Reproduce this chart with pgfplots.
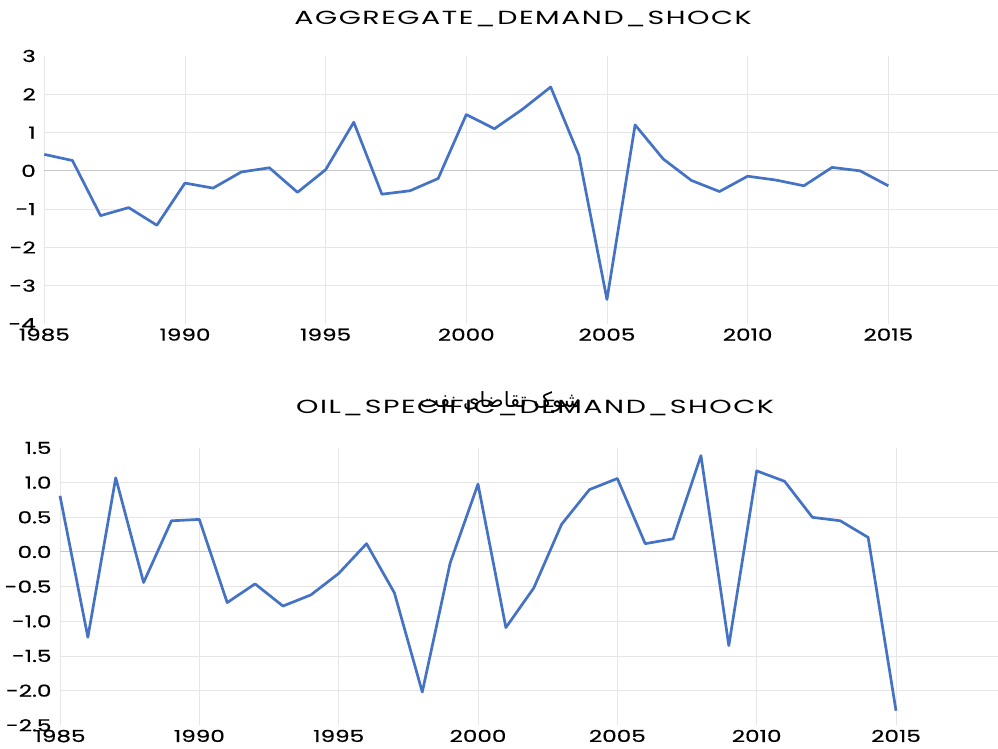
\documentclass[border=0pt]{standalone}
\usepackage{fontspec}
\usepackage{pgfplots}
\pgfplotsset{compat=1.18}
\TeXXeTstate=1
\newfontfamily\chartfont{Poppins}[FakeStretch=1.4, FakeBold=0.6]
\newfontfamily\titlefont{Poppins}[FakeStretch=1.5, LetterSpace=8]
\newfontfamily\arabicfont[Script=Arabic]{DejaVu Sans}
\definecolor{xlblue}{RGB}{68,114,196}
\definecolor{gridgray}{RGB}{230,230,230}
\definecolor{zerogray}{RGB}{200,200,200}

\pgfplotsset{
  shockstyle/.style={
    scale only axis,
    axis line style={draw=none},
    tick style={draw=none},
    xtick={1985,1990,...,2015},
    xmajorgrids, grid style={gridgray, line width=0.8pt},
    ticklabel style={font=\chartfont\fontsize{16.5}{16.5}\selectfont},
    /pgf/number format/assume math mode=true,
    /pgf/number format/1000 sep={},
    xticklabel style={yshift=-1pt},
    yticklabel style={xshift=-5pt},
    clip=false,
  },
}

\begin{document}
\begin{tikzpicture}[x=1pt,y=1pt]
\useasboundingbox (0,0) rectangle (998,749);

% top panel
\begin{axis}[shockstyle,
  at={(44.3pt,425pt)}, anchor=south west,
  width=953.7pt, height=268pt,
  xmin=1985, xmax=2018.9, ymin=-4, ymax=3,
  ytick={-4,...,3},
  extra y ticks={-3,-2,-1,1,2},
  extra y tick labels={},
  extra y tick style={ymajorgrids, grid style={gridgray, line width=0.8pt}},
]
  \draw[zerogray, line width=1pt] (axis cs:1985,0) -- (axis cs:2018.9,0);
  \addplot[xlblue, line width=2.7pt, line join=round] coordinates {
    (1985,0.43)(1986,0.27)(1987,-1.17)(1988,-0.96)(1989,-1.42)
    (1990,-0.32)(1991,-0.45)(1992,-0.03)(1993,0.08)(1994,-0.56)
    (1995,0.03)(1996,1.27)(1997,-0.61)(1998,-0.52)(1999,-0.20)
    (2000,1.47)(2001,1.10)(2002,1.61)(2003,2.19)(2004,0.41)
    (2005,-3.36)(2006,1.20)(2007,0.31)(2008,-0.25)(2009,-0.54)
    (2010,-0.14)(2011,-0.24)(2012,-0.39)(2013,0.09)(2014,0.00)
    (2015,-0.39)};
\end{axis}
\node[font=\titlefont\fontsize{19}{19}\selectfont] at (523,730) {AGGREGATE\_DEMAND\_SHOCK};

% bottom panel
\begin{axis}[shockstyle,
  at={(60pt,23.7pt)}, anchor=south west,
  width=938pt, height=277.3pt,
  xmin=1985, xmax=2018.66, ymin=-2.5, ymax=1.5,
  ytick={-2.5,-2,...,1.5},
  yticklabel style={/pgf/number format/.cd, fixed, fixed zerofill, precision=1},
  extra y ticks={-2,-1.5,-1,-0.5,0.5,1},
  extra y tick labels={},
  extra y tick style={ymajorgrids, grid style={gridgray, line width=0.8pt}},
]
  \draw[zerogray, line width=1pt] (axis cs:1985,0) -- (axis cs:2018.66,0);
  \addplot[xlblue, line width=2.7pt, line join=round] coordinates {
    (1985,0.81)(1986,-1.23)(1987,1.07)(1988,-0.44)(1989,0.45)
    (1990,0.47)(1991,-0.73)(1992,-0.46)(1993,-0.78)(1994,-0.62)
    (1995,-0.31)(1996,0.12)(1997,-0.59)(1998,-2.02)(1999,-0.16)
    (2000,0.98)(2001,-1.09)(2002,-0.52)(2003,0.40)(2004,0.90)
    (2005,1.06)(2006,0.12)(2007,0.19)(2008,1.39)(2009,-1.35)
    (2010,1.17)(2011,1.02)(2012,0.50)(2013,0.45)(2014,0.21)
    (2015,-2.29)};
\end{axis}
\node[font=\titlefont\fontsize{19}{19}\selectfont] at (535,341) {OIL\_SPECIFIC\_DEMAND\_SHOCK};
\node[font=\arabicfont\fontsize{21}{21}\selectfont] at (500,347) {\beginR شوک تقاضای نفت\endR};
\end{tikzpicture}
\end{document}
